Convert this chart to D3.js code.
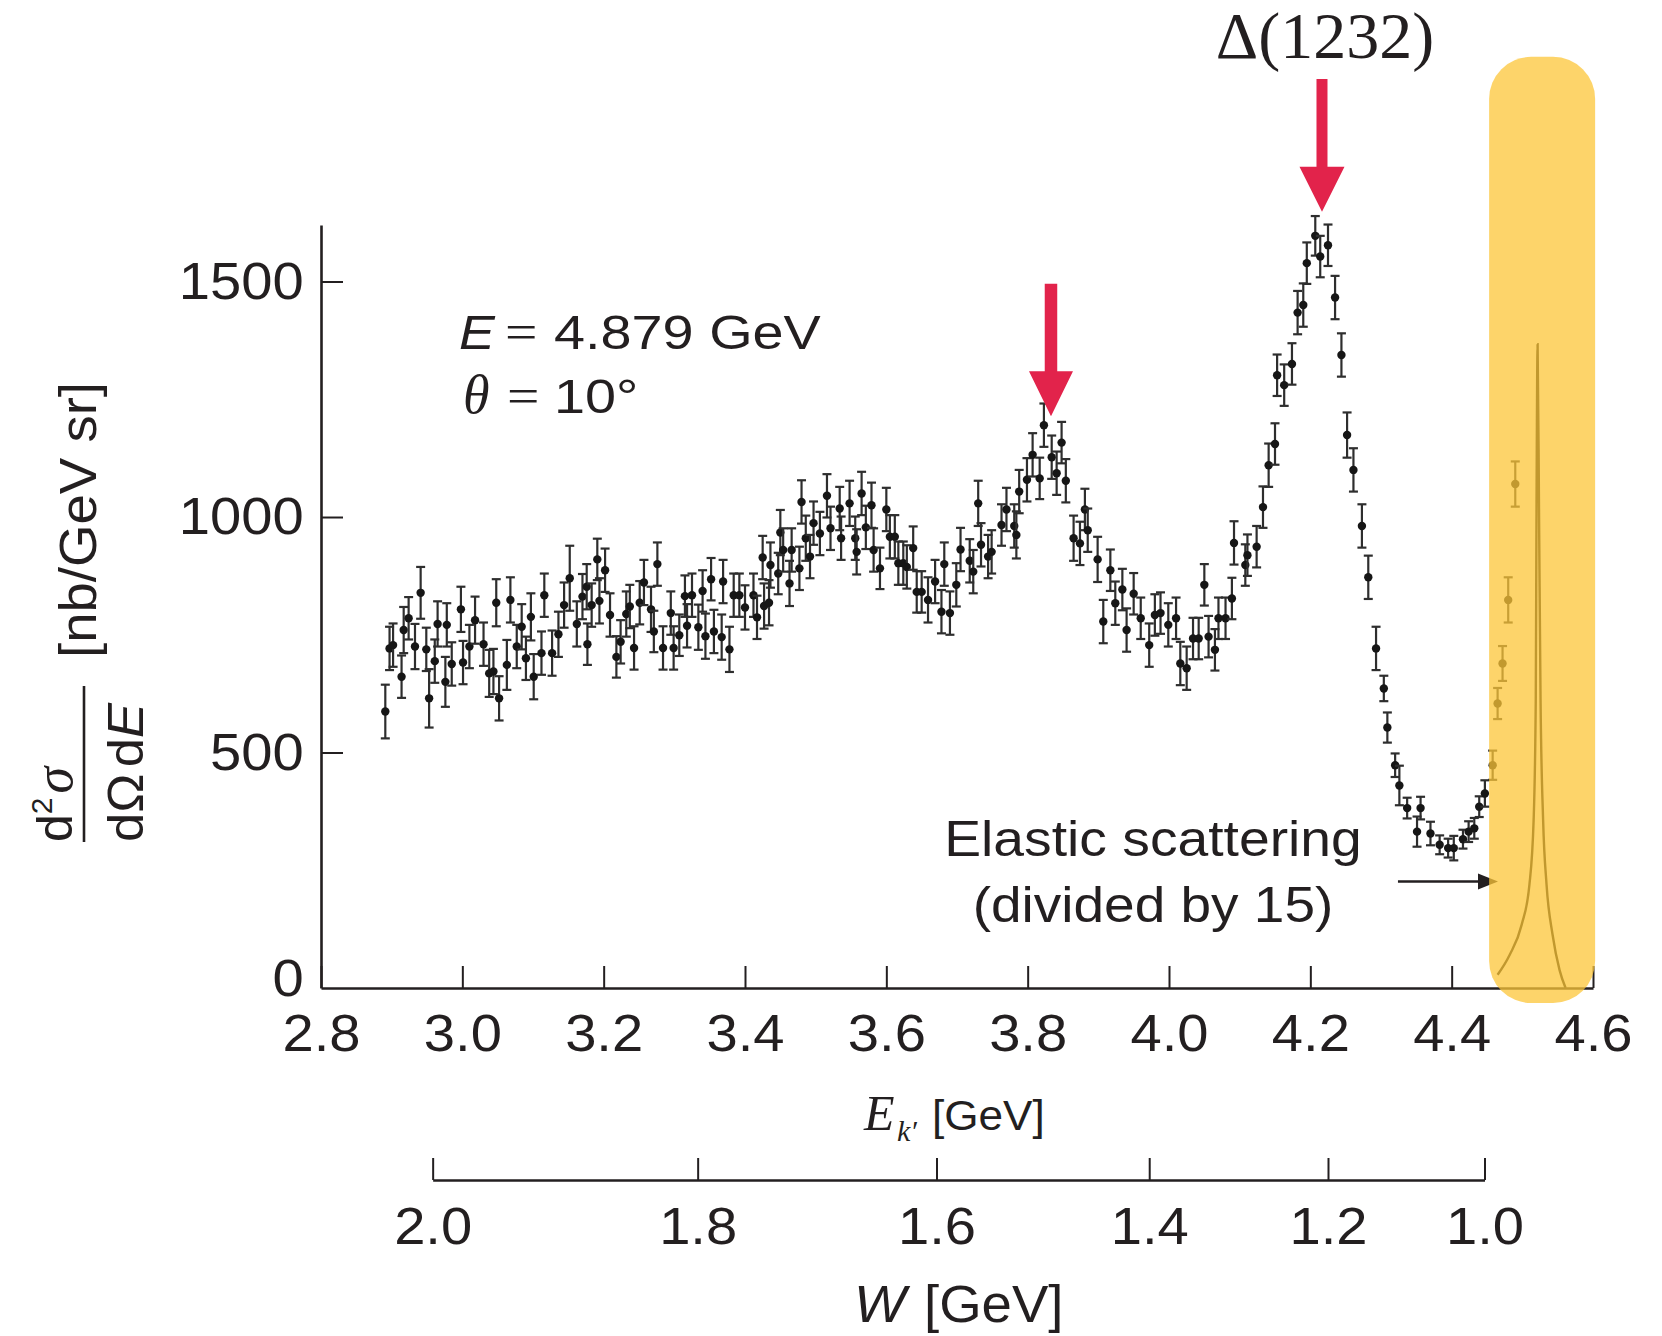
<!DOCTYPE html>
<html><head><meta charset="utf-8">
<script src="https://cdn.jsdelivr.net/npm/d3@7"></script>
<style>body{margin:0;background:#fff}svg{display:block;background:#fff}</style>
</head><body>
<svg id="chart" width="1662" height="1336"></svg>
<script>
// ---------- data ----------
const Ek = [
2.891,2.897,2.902,2.914,2.917,2.924,2.933,2.941,2.949,2.953,
2.961,2.965,2.976,2.978,2.985,2.998,3.001,3.010,3.018,3.030,
3.038,3.044,3.048,3.052,3.063,3.068,3.077,3.084,3.090,3.097,
3.101,3.112,3.116,3.127,3.136,3.144,3.152,3.162,3.170,3.176,
3.177,3.183,3.191,3.194,3.202,3.209,3.218,3.224,3.232,3.237,
3.243,3.251,3.257,3.267,3.271,3.276,3.284,3.295,3.299,3.307,
3.315,3.318,3.325,3.334,3.340,3.344,3.352,3.356,3.367,3.369,
3.378,3.384,3.392,3.400,3.412,
3.417,3.425,3.427,3.434,3.436,3.447,3.450,3.454,3.463,3.466,
3.477,3.480,3.486,3.492,3.497,3.506,3.516,3.521,3.534,3.536,
3.548,3.556,3.558,3.565,3.571,3.579,3.582,3.591,3.600,3.605,
3.612,3.617,3.624,3.629,3.638,3.643,3.650,3.659,3.669,3.678,
3.682,3.690,3.699,3.705,3.718,3.723,3.730,3.734,3.744,3.749,
3.763,3.770,3.781,3.784,3.788,3.799,3.807,3.817,3.823,3.834,
3.841,3.848,3.854,3.865,3.874,3.881,3.885,3.899,3.907,3.917,
3.924,3.934,3.940,3.950,3.960,3.972,3.980,3.988,3.999,4.010,
4.016,4.025,4.034,4.042,4.050,4.056,4.065,4.070,4.080,4.089,
4.092,4.108,4.111,4.124,4.133,4.141,4.150,4.153,4.163,4.174,
4.182,4.190,4.195,4.207,4.214,4.225,4.235,4.244,4.252,4.261,
4.273,4.282,4.293,4.304,4.309,4.320,4.326,4.337,4.351,4.356,
4.370,4.383,4.395,4.403,4.416,4.424,4.432,4.439,4.447,4.458,
4.465,4.472,4.480,4.490
];
const sigma = [
587,721,728,661,760,785,725,839,719,615,
694,773,650,771,688,804,691,725,781,730,
668,672,818,615,686,824,725,767,700,788,
661,711,834,711,751,813,870,773,831,852,
730,813,910,822,887,792,703,735,794,810,
722,818,861,804,757,900,722,796,722,749,
832,769,834,766,843,747,868,757,745,863,
719,834,834,808,834,
787,914,811,818,898,880,967,930,859,930,
891,1032,955,916,987,965,1045,976,1018,955,
1029,955,926,1050,978,1025,930,891,1016,958,
958,902,902,894,934,841,841,824,863,799,
900,796,856,931,907,884,1029,941,916,926,
983,1016,981,962,1054,1079,1132,1082,1195,1127,
1093,1158,1077,955,944,1016,972,910,778,887,
817,846,760,837,785,728,792,796,771,785,
689,679,742,742,856,746,718,785,785,827,
945,898,919,937,1021,1110,1155,1301,1280,1325,
1434,1450,1539,1597,1553,1577,1466,1344,1174,1100,
981,872,721,636,553,473,430,382,332,382,
328,304,297,297,316,332,339,385,413,473,
604,689,824,1070
];
const sigmaErr = [
57,46,46,45,49,45,48,55,46,62,
46,48,53,46,46,48,46,46,50,46,
50,48,50,47,53,48,46,48,46,50,
48,46,46,48,48,48,69,48,48,48,
44,46,44,48,46,46,44,46,48,46,
46,46,48,48,44,46,46,46,46,44,
44,46,46,48,44,48,45,46,48,46,
48,46,46,47,46,
46,46,48,48,48,44,48,46,48,46,
46,46,48,46,46,46,46,46,46,46,
48,46,48,46,46,48,46,44,46,46,
46,46,46,46,46,44,44,48,46,46,
46,46,46,46,46,46,48,46,46,46,
44,46,46,50,46,46,46,44,46,46,
46,44,46,48,46,44,46,48,46,44,
46,44,46,44,44,46,44,44,46,44,
46,46,44,44,44,44,44,44,44,44,
46,44,44,44,44,46,44,44,44,44,
46,46,44,42,44,44,46,46,48,46,
46,46,46,
27,32,25,42,22,32,24,25,20,20,
26,20,22,22,22,28,31,33,37,48,48
];
// elastic peak (divided by 15)
const elasticEk    = [4.465,4.482,4.499,4.510,4.516,4.519,4.520,4.5216,4.5237,4.5258,4.5294,4.5343,4.5428,4.5527,4.5612];
const elasticSigma = [28,70,134,219,357,611,994,1367,994,611,357,219,113,38,0];

const xTickValues = [2.8,3.0,3.2,3.4,3.6,3.8,4.0,4.2,4.4,4.6];
const yTickValues = [0,500,1000,1500];
const wTickValues = [2.0,1.8,1.6,1.4,1.2,1.0];
const wTickEk     = [2.958,3.333,3.671,3.972,4.225,4.4465];

const peakArrows = [ {E:3.833, from:1495, to:1214}, {E:4.2165, from:1930, to:1648} ];
const elasticArrow = {E0:4.324, E1:4.4656, s:226};
const highlight = {E0:4.453, E1:4.603, top:1977, bottom:-32};

// ---------- scales ----------
const svg = d3.select("#chart");
const x = d3.scaleLinear().domain([2.8,4.6]).range([321,1593]);
const y = d3.scaleLinear().domain([0,1620]).range([988,225]);
const w = d3.scaleLinear().domain(wTickValues).range(wTickEk.map(x));

const INK = "#231f20";
const SANS = "'Liberation Sans', Arial, Helvetica, sans-serif";
const SERIF = "'Liberation Serif', 'Times New Roman', serif";
const RED = "#e2234b";

const n = Math.min(Ek.length, sigma.length, sigmaErr.length);
const pts = d3.range(n).map(i => ({e:Ek[i], s:sigma[i], d:sigmaErr[i]}));

// ---------- data ----------
const gData = svg.append("g");
const bars = gData.selectAll("g.pt").data(pts).join("g").attr("class","pt");
const BAR = "#2e2e2e", CAP = 4.5;
bars.append("line")
  .attr("x1", d=>x(d.e)).attr("x2", d=>x(d.e))
  .attr("y1", d=>y(d.s-d.d)).attr("y2", d=>y(d.s+d.d))
  .attr("stroke",BAR).attr("stroke-width",2.2);
bars.append("line")
  .attr("x1", d=>x(d.e)-CAP).attr("x2", d=>x(d.e)+CAP)
  .attr("y1", d=>y(d.s+d.d)).attr("y2", d=>y(d.s+d.d))
  .attr("stroke",BAR).attr("stroke-width",2.2);
bars.append("line")
  .attr("x1", d=>x(d.e)-CAP).attr("x2", d=>x(d.e)+CAP)
  .attr("y1", d=>y(d.s-d.d)).attr("y2", d=>y(d.s-d.d))
  .attr("stroke",BAR).attr("stroke-width",2.2);
bars.append("circle")
  .attr("cx", d=>x(d.e)).attr("cy", d=>y(d.s)).attr("r",4.2)
  .attr("fill","#161616");

// elastic curve
const elastic = elasticEk.map((e,i)=>({e, s:elasticSigma[i]}));
svg.append("path").datum(elastic)
  .attr("d", d3.line().x(d=>x(d.e)).y(d=>y(d.s)).curve(d3.curveMonotoneX))
  .attr("fill","none").attr("stroke","#111").attr("stroke-width",2.4);

// ---------- x axis ----------
const gx = svg.append("g").attr("transform",`translate(0,${y(0)})`)
  .call(d3.axisBottom(x).tickValues(xTickValues).tickSize(-22).tickSizeOuter(0)
        .tickPadding(26).tickFormat(d3.format(".1f")));
gx.select("path.domain").attr("stroke",INK).attr("stroke-width",2.6);
gx.selectAll(".tick line").attr("stroke",INK).attr("stroke-width",2);
gx.selectAll(".tick text").attr("font-family",SANS).attr("font-size",52)
  .attr("fill",INK).attr("transform","scale(1.08,1)");

// elastic arrow
const ay = y(elasticArrow.s);
svg.append("line").attr("x1",x(elasticArrow.E0)).attr("x2",x(elasticArrow.E1)-14)
  .attr("y1",ay).attr("y2",ay).attr("stroke",INK).attr("stroke-width",2.4);
svg.append("path")
  .attr("d",`M${x(elasticArrow.E1)},${ay} L${x(elasticArrow.E1)-20},${ay-8} L${x(elasticArrow.E1)-20},${ay+8} Z`)
  .attr("fill",INK);

// yellow highlight overlay
svg.append("rect")
  .attr("x",x(highlight.E0)).attr("width",x(highlight.E1)-x(highlight.E0))
  .attr("y",y(highlight.top)).attr("height",y(highlight.bottom)-y(highlight.top))
  .attr("rx",42).attr("ry",42)
  .attr("fill","rgb(252,198,56)").attr("opacity",0.75);

// ---------- y axis ----------
const gy = svg.append("g").attr("transform",`translate(${x(2.8)},0)`)
  .call(d3.axisLeft(y).tickValues(yTickValues).tickSize(-22).tickSizeOuter(0)
        .tickPadding(16).tickFormat(d3.format("d")));
gy.select("path.domain").attr("stroke",INK).attr("stroke-width",2.6);
gy.selectAll(".tick line").attr("stroke",INK).attr("stroke-width",2)
  .attr("display", d => d===0 ? "none" : null);
gy.selectAll(".tick text").attr("font-family",SANS).attr("font-size",52)
  .attr("fill",INK).attr("transform","scale(1.08,1)")
  .attr("y", d => d===0 ? -9 : 0);

// ---------- W axis ----------
const gw = svg.append("g").attr("transform","translate(0,1180)")
  .call(d3.axisBottom(w).tickValues(wTickValues).tickSize(-22).tickSizeOuter(0)
        .tickPadding(27).tickFormat(d3.format(".1f")));
gw.select("path.domain").attr("stroke",INK).attr("stroke-width",2.6);
gw.selectAll(".tick line").attr("stroke",INK).attr("stroke-width",2);
gw.selectAll(".tick text").attr("font-family",SANS).attr("font-size",52)
  .attr("fill",INK).attr("transform","scale(1.08,1)");

// ---------- texts ----------
function txt(px, py, str, o) {
  o = o || {};
  const t = svg.append("text")
    .attr("transform", `translate(${px},${py})` + (o.rot ? ` rotate(${o.rot})` : "") + ` scale(${o.sx||1},1)`)
    .attr("font-family", o.font || SANS).attr("font-size", o.size || 50)
    .attr("font-style", o.italic ? "italic" : "normal")
    .attr("text-anchor", o.anchor || "start").attr("fill", o.fill || INK)
    .text(str);
  return t;
}

// Delta(1232)
txt(1325, 58, "\u0394(1232)", {font:SERIF, size:66, anchor:"middle"});

// E = 4.879 GeV ; theta = 10°
txt(459, 349, "E", {size:48, italic:true, sx:1.12});
txt(505, 349, "=", {font:SERIF, size:50, sx:1.15});
txt(554, 349, "4.879 GeV", {size:48, sx:1.163});
txt(463, 413, "\u03B8", {font:SERIF, size:54, italic:true});
txt(507, 413, "=", {font:SERIF, size:50, sx:1.15});
txt(554, 413, "10\u00B0", {size:48, sx:1.163});

// Elastic scattering label
txt(1153, 856, "Elastic scattering", {size:50, sx:1.105, anchor:"middle"});
txt(1153, 922, "(divided by 15)", {size:50, sx:1.1, anchor:"middle"});

// E_k' [GeV]
txt(864, 1130, "E", {font:SERIF, size:50, italic:true});
txt(897, 1141, "k\u2032", {font:SERIF, size:30, italic:true});
txt(932, 1130, "[GeV]", {size:42, sx:1.05});

// W [GeV]
txt(854, 1322, "W", {size:51, italic:true, sx:1.08});
txt(924, 1322, "[GeV]", {size:51, sx:1.07});

// y-axis title (rotated)
txt(96, 520, "[nb/GeV sr]", {size:52, rot:-90, sx:1.05, anchor:"middle"});
const num = svg.append("text")
  .attr("transform","translate(72,842) rotate(-90)")
  .attr("font-family",SANS).attr("font-size",50).attr("fill",INK);
num.append("tspan").text("d");
num.append("tspan").attr("font-size",30).attr("dy",-20).text("2");
num.append("tspan").attr("dy",20).attr("font-family",SERIF).attr("font-style","italic").attr("font-size",54).attr("dx",4).text("\u03C3");
svg.append("line").attr("x1",84).attr("x2",84).attr("y1",842).attr("y2",686)
  .attr("stroke",INK).attr("stroke-width",2.6);
const den = svg.append("text")
  .attr("transform","translate(143,842) rotate(-90) scale(1.05,1)")
  .attr("font-family",SANS).attr("font-size",50).attr("fill",INK);
den.append("tspan").text("d\u03A9");
den.append("tspan").attr("dx",6).text("d");
den.append("tspan").attr("font-style","italic").text("E");

// ---------- red arrows ----------
const arrows = [
  {a:peakArrows[0], sw:12.5, hw:44, hl:45},
  {a:peakArrows[1], sw:11, hw:45, hl:45}
];
svg.selectAll("path.red").data(arrows).join("path").attr("class","red")
  .attr("d", d => {
    const cx = x(d.a.E), y0 = y(d.a.from), yt = y(d.a.to), yb = yt - d.hl;
    return `M${cx-d.sw/2},${y0} L${cx+d.sw/2},${y0} L${cx+d.sw/2},${yb} L${cx+d.hw/2},${yb} L${cx},${yt} L${cx-d.hw/2},${yb} L${cx-d.sw/2},${yb} Z`;
  })
  .attr("fill", RED);
</script>
</body></html>
